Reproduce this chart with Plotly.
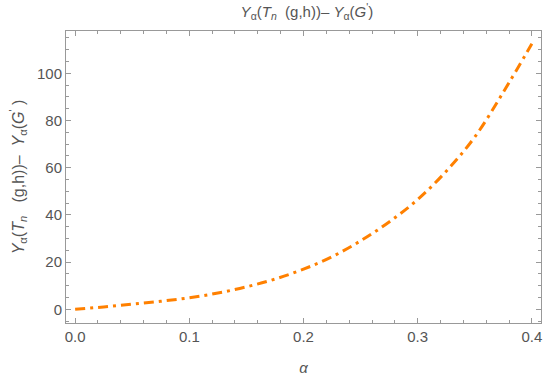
import plotly.graph_objects as go

alpha = [0, 0.025, 0.05, 0.075, 0.1, 0.125, 0.15, 0.175, 0.2, 0.225, 0.25,
         0.275, 0.3, 0.325, 0.35, 0.375, 0.4]
yvals = [0, 1.0, 2.2, 3.4, 4.9, 6.9, 9.5, 12.8, 17.0, 22.3, 29.0,
         37.0, 46.5, 58.5, 73.0, 92.0, 112.5]
xticks = [0.0, 0.1, 0.2, 0.3, 0.4]
xticklabels = ["0.0", "0.1", "0.2", "0.3", "0.4"]
yticks = [0, 20, 40, 60, 80, 100]

title_txt = ("<i>Y</i><sub>α</sub>(<i>T</i><sub><i>n</i></sub>  (g,h))– "
             "<i>Y</i><sub>α</sub>(<i>G</i><sup>'</sup>)")
ytitle_txt = ("<i>Y</i><sub>α</sub>(<i>T</i><sub><i>n</i></sub>   (g,h))–  "
              "<i>Y</i><sub>α</sub>(<i>G</i><sup>'</sup> )")

fig = go.Figure()
fig.add_trace(go.Scatter(
    x=alpha, y=yvals, mode="lines", line_shape="spline",
    line=dict(color="rgb(255,128,0)", width=3, dash="10px,5px,3px,5px"),
    showlegend=False))

axcommon = dict(showgrid=False, zeroline=False, showline=True, linecolor="#999999",
                linewidth=1, mirror="allticks", ticks="inside", ticklen=5,
                tickcolor="#999999", tickfont=dict(size=15, color="#555555"),
                automargin=False)

fig.update_xaxes(range=[-0.008, 0.408], tickvals=xticks, ticktext=xticklabels,
                 minor=dict(dtick=0.02, ticks="inside", ticklen=3, tickcolor="#999999"),
                 title=dict(text="<i>α</i>", font=dict(size=15, color="#555555"), standoff=18),
                 **axcommon)
fig.update_yaxes(range=[-5.8, 117.9], tickvals=yticks,
                 minor=dict(dtick=5, ticks="inside", ticklen=3, tickcolor="#999999"),
                 title=dict(text=ytitle_txt, font=dict(size=16, color="#555555"), standoff=8),
                 **axcommon)

fig.update_layout(
    width=550, height=378,
    margin=dict(l=66, r=9, t=31, b=55),
    plot_bgcolor="white", paper_bgcolor="white",
    font=dict(family="Liberation Sans, Arial, sans-serif", color="#555555"),
    title=dict(text=title_txt, x=0.558, xanchor="center", y=0.968, yanchor="middle",
               font=dict(size=15, color="#555555")),
)

# remove the page's default body margin so the figure fills the window exactly
fig.write_html("out.html", config={"displayModeBar": False},
               post_script="document.body.style.margin='0px';")
